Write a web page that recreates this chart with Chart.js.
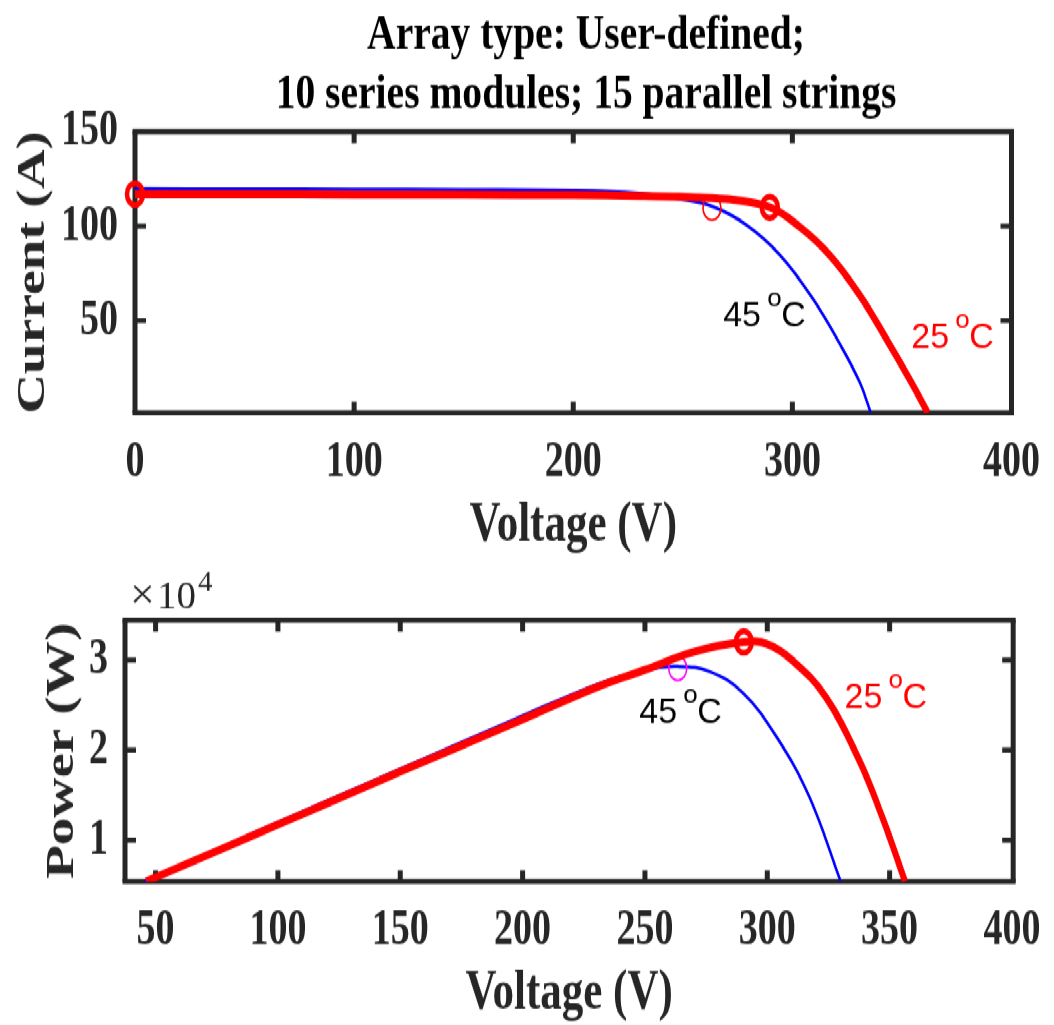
<!DOCTYPE html>
<html>
<head>
<meta charset="utf-8">
<script src="https://cdn.jsdelivr.net/npm/chart.js@4.4.1/dist/chart.umd.min.js"></script>
<style>
  html, body { margin: 0; padding: 0; background: #ffffff; overflow: hidden; }
  #wrap { position: absolute; left: 0; top: 0; width: 1054px; height: 760px;
          transform: scaleY(1.3486842); transform-origin: 0 0; }
  #c1 { position: absolute; left: 0; top: 0; width: 1054px; height: 420px; }
  #c2 { position: absolute; left: 0; top: 420px; width: 1054px; height: 340px; }
</style>
</head>
<body>
<div id="wrap">
  <canvas id="c1" width="1054" height="420" style="width:1054px;height:420px"></canvas>
  <canvas id="c2" width="1054" height="340" style="width:1054px;height:340px"></canvas>
</div>
<script>
// ---------------- data ----------------
const titleLines = ['Array type: User-defined;', '10 series modules; 15 parallel strings'];
const tempLabels = ['45', '25'];

// I-V curves
const ivVoltage25 = [0, 50, 100, 150, 200, 230, 248.6, 270, 289.7, 303.4, 317.1, 330.8, 342.9, 353.6, 361.8];
const ivCurrent25 = [117.0, 116.9, 116.8, 116.7, 116.5, 116.1, 115.6, 114.4, 110.0, 99.6, 84.6, 63.4, 40.3, 18.8, 1.2];
const ivVoltage45 = [0, 50, 100, 150, 200, 230, 248.6, 263.8, 279.1, 294.3, 309.4, 321.6, 330.8, 335.8];
const ivCurrent45 = [119.7, 119.6, 119.5, 119.3, 118.9, 117.4, 114.4, 110.3, 100.6, 84.8, 61.5, 37.8, 17.2, 1.2];
const ivMarkers25V = [0, 289.7];
const ivMarkers25I = [117.0, 110.0];
const ivMarker45V = [263.3];
const ivMarker45I = [109.6];

// P-V curves
const pvVoltage25 = [46, 100, 150, 200, 229.5, 249.8, 270, 290.2, 299.7, 310.5, 323.9, 337.5, 346.9, 356.3];
const pvPower25 = [5400, 11700, 17600, 23400, 26900, 28900, 30900, 32000, 31800, 29900, 25900, 18900, 12600, 5400];
const pvVoltage45 = [45.3, 100, 150, 200, 229.5, 249.8, 263.2, 276.7, 290.2, 303.7, 317.2, 330];
const pvPower45 = [5400, 11950, 17900, 23800, 27200, 28900, 29300, 28700, 26300, 21500, 14800, 5400];
const pvMarker25V = [290.4];
const pvMarker25P = [32000];
const pvMarker45V = [263.4];
const pvMarker45P = [29080];

// tick values
const ivXTicks = [0, 100, 200, 300, 400];
const ivYTicks = [50, 100, 150];
const pvXTicks = [50, 100, 150, 200, 250, 300, 350, 400];
const pvYTicks = [10000, 20000, 30000];

// ---------------- styling ----------------
const S = 1025 / 760;               // vertical stretch of the whole figure
const AXIS = '#262626';
const RED = '#ff0000', BLUE = '#0000ff', MAG = '#ff00ff';
const SERIF = '"Liberation Serif", "Times New Roman", Times, serif';
const SANS = '"Liberation Sans", Arial, Helvetica, sans-serif';

// label anchors in data coordinates (left edge, baseline)
const ivLabelAnchors = [{x: 268.4, y: 46.8, color: '#000000'}, {x: 354.3, y: 35.4, color: RED}];
const pvLabelAnchors = [{x: 247.7, y: 22970, color: '#000000'}, {x: 331.6, y: 24630, color: RED}];

const xy = (xs, ys) => xs.map((v, i) => ({x: v, y: ys[i]}));

function lineDs(xs, ys, color, width, order) {
  return { data: xy(xs, ys), borderColor: color, borderWidth: width, pointRadius: 0,
           tension: 0.4, borderJoinStyle: 'round', borderCapStyle: 'butt',
           fill: false, order: order };
}
function markerDs(xs, ys, color, radius, width, order) {
  return { data: xy(xs, ys), showLine: false, pointRadius: radius, pointHoverRadius: radius,
           pointBorderWidth: width, pointBorderColor: color, pointBackgroundColor: 'rgba(0,0,0,0)',
           pointStyle: 'circle', clip: false, order: order };
}

const framePlugin = {
  id: 'frame',
  beforeDatasetsDraw(chart) {
    const {ctx, chartArea: {left, right, top, bottom}, scales: {x, y}} = chart;
    ctx.save();
    ctx.strokeStyle = AXIS;
    ctx.lineCap = 'butt';
    ctx.lineWidth = 5;
    x.ticks.forEach(t => {
      const px = x.getPixelForValue(t.value);
      if (px < left + 3 || px > right - 3) return;
      ctx.beginPath();
      ctx.moveTo(px, bottom); ctx.lineTo(px, bottom - 8.5);
      ctx.moveTo(px, top); ctx.lineTo(px, top + 8.5);
      ctx.stroke();
    });
    ctx.lineWidth = 5 / S;
    y.ticks.forEach(t => {
      const py = y.getPixelForValue(t.value);
      if (py < top + 2 || py > bottom - 2) return;
      ctx.beginPath();
      ctx.moveTo(left, py); ctx.lineTo(left + 11, py);
      ctx.moveTo(right, py); ctx.lineTo(right - 11, py);
      ctx.stroke();
    });
    ctx.lineWidth = 5 / S;
    ctx.beginPath();
    ctx.moveTo(left - 2.5, top); ctx.lineTo(right + 2.5, top);
    ctx.moveTo(left - 2.5, bottom); ctx.lineTo(right + 2.5, bottom);
    ctx.stroke();
    ctx.lineWidth = 5;
    ctx.beginPath();
    ctx.moveTo(left, top); ctx.lineTo(left, bottom);
    ctx.moveTo(right, top); ctx.lineTo(right, bottom);
    ctx.stroke();
    ctx.restore();
  }
};

function drawTemp(ctx, px, py, num, color) {
  ctx.save();
  ctx.translate(px, py);
  ctx.scale(1, 1 / S);
  ctx.fillStyle = color;
  ctx.textAlign = 'left';
  ctx.textBaseline = 'alphabetic';
  ctx.font = '34px ' + SANS;
  ctx.fillText(num, 0, 0);
  ctx.font = '26px ' + SANS;
  ctx.fillText('o', 44, -20);
  ctx.font = '34px ' + SANS;
  ctx.fillText('C', 58, 0);
  ctx.restore();
}

function labelPlugin(anchors) {
  return {
    id: 'tempLabels',
    afterDatasetsDraw(chart) {
      const {ctx, scales: {x, y}} = chart;
      anchors.forEach((a, i) => {
        drawTemp(ctx, x.getPixelForValue(a.x), y.getPixelForValue(a.y), tempLabels[i], a.color);
      });
    }
  };
}

const titlePlugin = {
  id: 'figTitle',
  afterDraw(chart) {
    const ctx = chart.ctx;
    const baselines = [35.8, 80.3];
    ctx.save();
    ctx.fillStyle = '#000000';
    ctx.textAlign = 'center';
    ctx.textBaseline = 'alphabetic';
    ctx.font = 'bold 35px ' + SERIF;
    titleLines.forEach((t, i) => {
      ctx.save();
      ctx.translate(586, baselines[i]);
      ctx.scale(1.13, 1);
      ctx.fillText(t, 0, 0);
      ctx.restore();
    });
    ctx.restore();
  }
};

const exponentPlugin = {
  id: 'exponent',
  afterDraw(chart) {
    const ctx = chart.ctx;
    ctx.save();
    ctx.translate(0, 31.0);
    ctx.scale(1, 1 / S);
    ctx.fillStyle = AXIS;
    ctx.textBaseline = 'alphabetic';
    ctx.textAlign = 'center';
    ctx.font = '44px ' + SERIF;
    ctx.fillText('\u00d7', 142.5, 0);
    ctx.textAlign = 'left';
    ctx.font = '39px ' + SERIF;
    ctx.fillText('10', 157, 0);
    ctx.font = '29px ' + SERIF;
    ctx.fillText('4', 198, -17);
    ctx.restore();
  }
};

const tickFont = {family: SERIF, size: 38, weight: 'bold'};
const axTitleFont = {family: SERIF, size: 43, weight: 'bold', lineHeight: 1};
const yTitleFont = {family: SERIF, size: 41, weight: 'bold', lineHeight: 1};

function setTicks(arr) { return (scale) => { scale.ticks = arr.map(v => ({value: v})); }; }

const common = {
  responsive: false,
  maintainAspectRatio: false,
  devicePixelRatio: 1,
  animation: false,
  events: [],
  plugins: { legend: {display: false}, tooltip: {enabled: false}, title: {display: false} }
};

// ---------------- top chart: I-V ----------------
new Chart(document.getElementById('c1'), {
  type: 'line',
  data: {
    datasets: [
      markerDs(ivMarkers25V, ivMarkers25I, RED, 8, 4.5, 0),
      lineDs(ivVoltage25, ivCurrent25, RED, 6, 1),
      markerDs(ivMarker45V, ivMarker45I, RED, 9, 1.6, 2),
      lineDs(ivVoltage45, ivCurrent45, BLUE, 2.5, 3)
    ]
  },
  options: Object.assign({}, common, {
    layout: { padding: {left: 0, right: 42.5, top: 97.65, bottom: 0} },
    scales: {
      x: {
        type: 'linear', position: 'bottom', min: 0, max: 400,
        afterBuildTicks: setTicks(ivXTicks),
        afterFit: (s) => { s.height = 420 - 306.2; },
        grid: {display: false, drawTicks: false},
        border: {display: false},
        ticks: {font: tickFont, color: AXIS, padding: 14, maxRotation: 0, autoSkip: false},
        title: {display: true, text: 'Voltage (V)', font: axTitleFont, color: AXIS, padding: {top: 0, bottom: 8.9}}
      },
      y: {
        type: 'linear', position: 'left', min: 1.16, max: 150,
        afterBuildTicks: setTicks(ivYTicks),
        afterFit: (s) => { s.width = 135; },
        grid: {display: false, drawTicks: false},
        border: {display: false},
        ticks: {font: tickFont, color: AXIS, padding: 17, autoSkip: false},
        title: {display: true, text: 'Current (A)', font: yTitleFont, color: AXIS, padding: {top: 12.5, bottom: 0}}
      }
    }
  }),
  plugins: [framePlugin, labelPlugin(ivLabelAnchors), titlePlugin]
});

// ---------------- bottom chart: P-V ----------------
new Chart(document.getElementById('c2'), {
  type: 'line',
  data: {
    datasets: [
      markerDs(pvMarker25V, pvMarker25P, RED, 8, 4.5, 0),
      lineDs(pvVoltage25, pvPower25, RED, 6, 1),
      markerDs(pvMarker45V, pvMarker45P, MAG, 9, 1.6, 2),
      lineDs(pvVoltage45, pvPower45, BLUE, 2.5, 3)
    ]
  },
  options: Object.assign({}, common, {
    layout: { padding: {left: 0, right: 31.5, top: 39.7, bottom: 0} },
    scales: {
      x: {
        type: 'linear', position: 'bottom', min: 37.5, max: 400.5,
        afterBuildTicks: setTicks(pvXTicks),
        afterFit: (s) => { s.height = 340 - 233.7; },
        grid: {display: false, drawTicks: false},
        border: {display: false},
        ticks: {font: tickFont, color: AXIS, padding: 13.5, maxRotation: 0, autoSkip: false},
        title: {display: true, text: 'Voltage (V)', font: axTitleFont, color: AXIS, padding: {top: 0, bottom: 2}}
      },
      y: {
        type: 'linear', position: 'left', min: 5370, max: 34440,
        afterBuildTicks: setTicks(pvYTicks),
        afterFit: (s) => { s.width = 125; },
        grid: {display: false, drawTicks: false},
        border: {display: false},
        ticks: {font: tickFont, color: AXIS, padding: 17, autoSkip: false,
                callback: (v) => String(Math.round(v / 10000))},
        title: {display: true, text: 'Power (W)', font: yTitleFont, color: AXIS, padding: {top: 42, bottom: 0}}
      }
    }
  }),
  plugins: [framePlugin, labelPlugin(pvLabelAnchors), exponentPlugin]
});
</script>
</body>
</html>
